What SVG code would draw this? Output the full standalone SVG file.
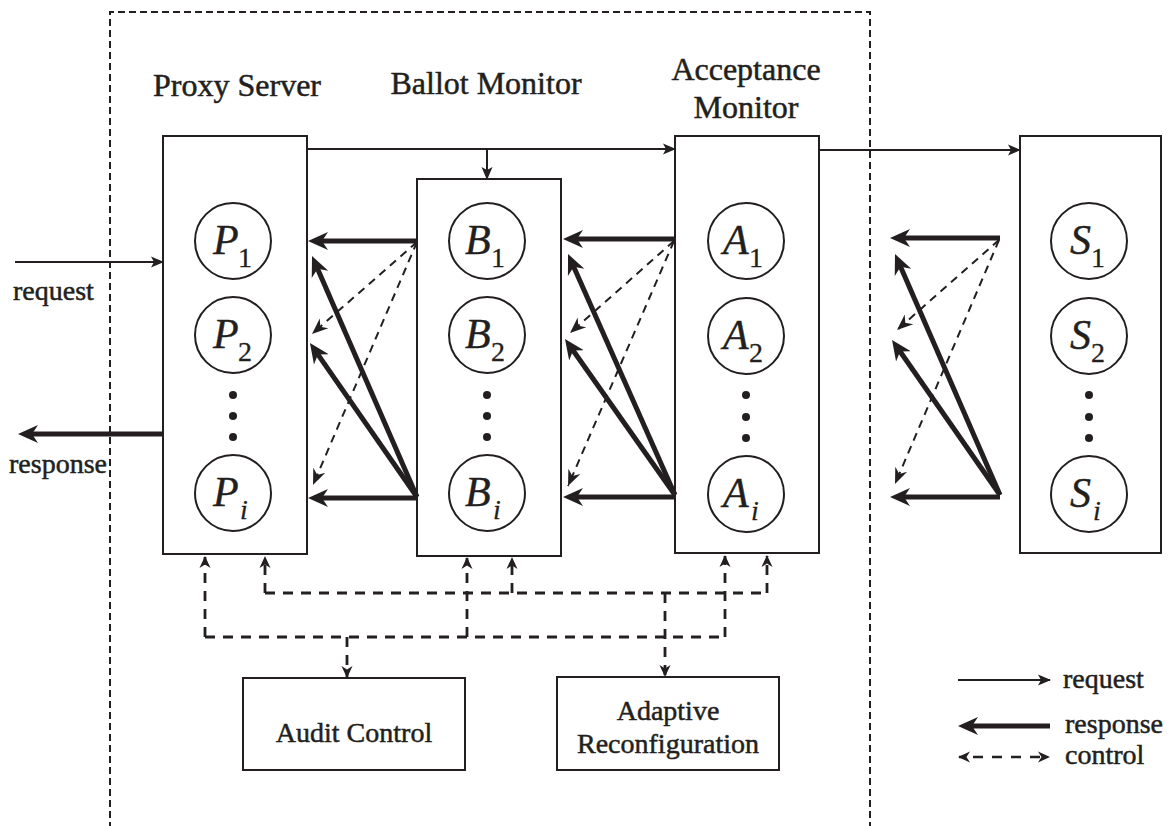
<svg xmlns="http://www.w3.org/2000/svg" width="1168" height="826" viewBox="0 0 1168 826">
<defs>
<marker id="ahThick" markerUnits="userSpaceOnUse" markerWidth="20" markerHeight="20" refX="8" refY="10" orient="auto"><path d="M20,10 L0,1 L6,10 L0,19 Z" fill="#231f20"/></marker>
<marker id="ahDash" markerUnits="userSpaceOnUse" markerWidth="17" markerHeight="16" refX="16" refY="8" orient="auto"><path d="M16,8 L0,1.5 L5,8 L0,14.5 Z" fill="#231f20"/></marker>
<marker id="ahThin" markerUnits="userSpaceOnUse" markerWidth="13" markerHeight="12" refX="12" refY="6" orient="auto"><path d="M13,6 L0,0.5 L3,6 L0,11.5 Z" fill="#231f20"/></marker>
<marker id="ahCtl" markerUnits="userSpaceOnUse" markerWidth="12" markerHeight="12" refX="11" refY="6" orient="auto-start-reverse"><path d="M12,6 L0,0.5 L3.5,6 L0,11.5 Z" fill="#231f20"/></marker>
</defs>
<style>
.box{fill:none;stroke:#231f20;stroke-width:2}
.circ{fill:none;stroke:#231f20;stroke-width:2}
.t{font-family:"Liberation Serif",serif;fill:#231f20;stroke:#231f20;stroke-width:0.5}
.hd{font-size:32px}
.lb{font-size:28px}
.it{font-family:"Liberation Serif",serif;font-style:italic;font-size:42px;fill:#231f20;stroke:#231f20;stroke-width:0.4}
.sub{font-family:"Liberation Serif",serif;font-size:28px;fill:#231f20;stroke:#231f20;stroke-width:0.3}
.req{fill:none;stroke:#231f20;stroke-width:2;marker-end:url(#ahThin)}
.resp{fill:none;stroke:#231f20;stroke-width:5;marker-end:url(#ahThick)}
.dsh{fill:none;stroke:#231f20;stroke-width:2;stroke-dasharray:8 6;marker-end:url(#ahDash)}
.ctl{fill:none;stroke:#231f20;stroke-width:2.8;stroke-dasharray:10 8}
.ctla{fill:none;stroke:#231f20;stroke-width:2.8;stroke-dasharray:10 8;marker-end:url(#ahCtl)}
.dot{fill:#231f20}
</style>
<rect width="1168" height="826" fill="#ffffff"/>
<path d="M110,840 V12 H870 V840" fill="none" stroke="#231f20" stroke-width="2" stroke-dasharray="7 4"/>

<text class="t hd" x="237" y="96" text-anchor="middle">Proxy Server</text>
<text class="t hd" x="486" y="94" text-anchor="middle">Ballot Monitor</text>
<text class="t hd" x="746" y="80" text-anchor="middle">Acceptance</text>
<text class="t hd" x="746" y="118" text-anchor="middle">Monitor</text>

<g id="proxy">
<rect class="box" x="163" y="136" width="144" height="418"/>
<circle class="circ" cx="233" cy="241" r="38"/><text class="it" x="213" y="254">P</text><text class="sub" x="238" y="267">1</text>
<circle class="circ" cx="233" cy="335" r="38"/><text class="it" x="213" y="348">P</text><text class="sub" x="238" y="361">2</text>
<circle class="dot" cx="233" cy="395" r="4"/><circle class="dot" cx="233" cy="416" r="4"/><circle class="dot" cx="233" cy="437" r="4"/>
<circle class="circ" cx="233" cy="493" r="38"/><text class="it" x="213" y="506">P</text><text class="sub" x="240" y="519" font-style="italic">i</text>
</g>
<g id="ballot">
<rect class="box" x="417" y="179" width="144" height="377"/>
<circle class="circ" cx="487" cy="241" r="38"/><text class="it" x="465" y="254">B</text><text class="sub" x="491" y="267">1</text>
<circle class="circ" cx="487" cy="335" r="38"/><text class="it" x="465" y="348">B</text><text class="sub" x="491" y="361">2</text>
<circle class="dot" cx="487" cy="395" r="4"/><circle class="dot" cx="487" cy="416" r="4"/><circle class="dot" cx="487" cy="437" r="4"/>
<circle class="circ" cx="487" cy="493" r="38"/><text class="it" x="465" y="506">B</text><text class="sub" x="493" y="519" font-style="italic">i</text>
</g>
<g id="acceptance">
<rect class="box" x="675" y="136" width="144" height="417"/>
<circle class="circ" cx="746" cy="241" r="38"/><text class="it" x="723" y="254">A</text><text class="sub" x="749" y="267">1</text>
<circle class="circ" cx="746" cy="336" r="38"/><text class="it" x="723" y="349">A</text><text class="sub" x="749" y="362">2</text>
<circle class="dot" cx="746" cy="395" r="4"/><circle class="dot" cx="746" cy="417" r="4"/><circle class="dot" cx="746" cy="438" r="4"/>
<circle class="circ" cx="746" cy="494" r="38"/><text class="it" x="723" y="507">A</text><text class="sub" x="751" y="520" font-style="italic">i</text>
</g>
<g id="servers">
<rect class="box" x="1020" y="136" width="141" height="417"/>
<circle class="circ" cx="1089" cy="241" r="38"/><text class="it" x="1070" y="254">S</text><text class="sub" x="1091" y="267">1</text>
<circle class="circ" cx="1089" cy="336" r="38"/><text class="it" x="1070" y="349">S</text><text class="sub" x="1091" y="362">2</text>
<circle class="dot" cx="1089" cy="395" r="4"/><circle class="dot" cx="1089" cy="417" r="4"/><circle class="dot" cx="1089" cy="438" r="4"/>
<circle class="circ" cx="1089" cy="494" r="38"/><text class="it" x="1070" y="507">S</text><text class="sub" x="1093" y="520" font-style="italic">i</text>
</g>
<g id="audit">
<rect class="box" x="243" y="678" width="222" height="92"/>
<text class="t lb" x="354" y="742" text-anchor="middle">Audit Control</text>
</g>
<g id="adaptive">
<rect class="box" x="557" y="677" width="222" height="93"/>
<text class="t lb" x="668" y="720" text-anchor="middle">Adaptive</text>
<text class="t lb" x="668" y="753" text-anchor="middle">Reconfiguration</text>
</g>

<g id="connectors">
<path class="req" d="M15,262 H163"/>
<path class="req" d="M307,149 H675"/>
<path class="req" d="M487,149 V179"/>
<path class="req" d="M819,150 H1020"/>
<path class="resp" d="M163,434 H30"/>

<path class="resp" d="M417,241 H320"/>
<path class="resp" d="M417,498 H320"/>
<path class="resp" d="M417,497 L316.8,267"/>
<path class="resp" d="M417,497 L316.8,352.9"/>
<path class="dsh" d="M417,242 L312,334"/>
<path class="dsh" d="M417,242 L313,485"/>

<path class="resp" d="M675,239 H575"/>
<path class="resp" d="M675,497 H575"/>
<path class="resp" d="M675,495 L572.9,265"/>
<path class="resp" d="M675,495 L571.9,348.8"/>
<path class="dsh" d="M674,241 L570,333"/>
<path class="dsh" d="M674,241 L568,486"/>

<path class="resp" d="M1000,238 H902"/>
<path class="resp" d="M1000,497 H902"/>
<path class="resp" d="M1000,495 L899.8,265"/>
<path class="resp" d="M1000,495 L898.9,349.8"/>
<path class="dsh" d="M999,240 L897,330"/>
<path class="dsh" d="M999,240 L895,484"/>

<path class="ctl" d="M205,637 H725"/>
<path class="ctl" d="M265,593 H767"/>
<path class="ctla" d="M205,637 V557"/>
<path class="ctla" d="M265,593 V557"/>
<path class="ctla" d="M467,637 V558"/>
<path class="ctla" d="M512,593 V558"/>
<path class="ctla" d="M725,637 V556"/>
<path class="ctla" d="M767,593 V556"/>
<path class="ctla" d="M347,637 V677"/>
<path class="ctla" d="M665,593 V676"/>
</g>

<text class="t lb" x="13" y="300">request</text>
<text class="t lb" x="9" y="473">response</text>

<g id="legend">
<path class="req" d="M958,680 H1050"/>
<text class="t lb" x="1063" y="688">request</text>
<path class="resp" d="M1050,726 H970"/>
<text class="t lb" x="1065" y="733">response</text>
<path d="M959,757 H1049" fill="none" stroke="#231f20" stroke-width="2.5" stroke-dasharray="10 9" stroke-dashoffset="-14" marker-start="url(#ahCtl)" marker-end="url(#ahCtl)"/>
<text class="t lb" x="1065" y="764">control</text>
</g>
</svg>
